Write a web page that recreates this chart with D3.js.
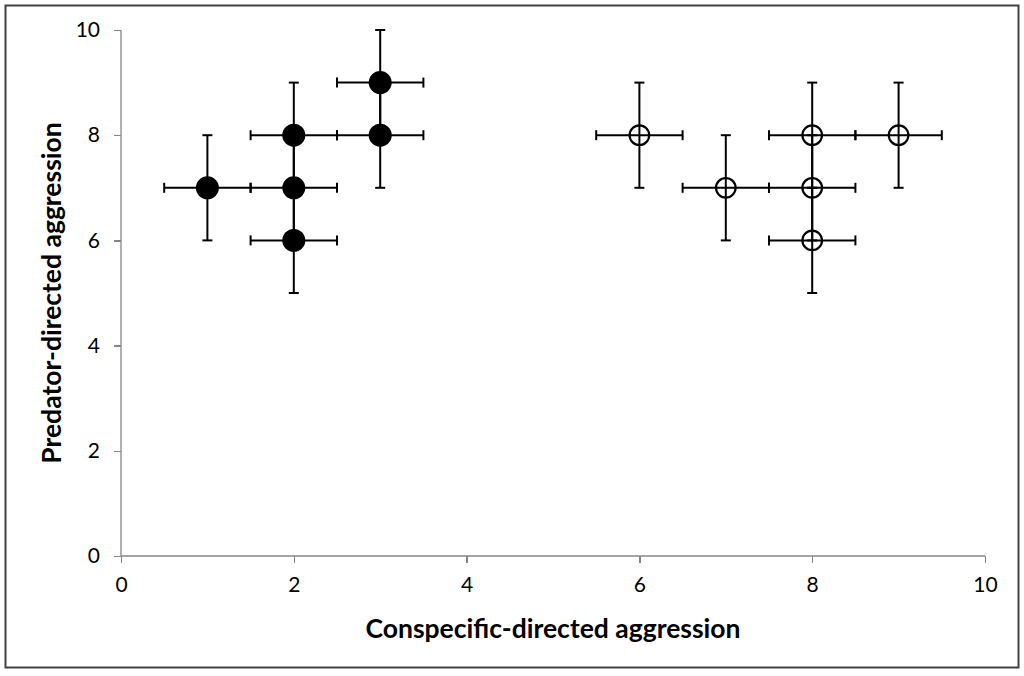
<!DOCTYPE html>
<html lang="en">
<head>
<meta charset="utf-8">
<title>Aggression scatter</title>
<script src="https://d3js.org/d3.v7.min.js"></script>
<style>
    body { margin: 0; background: #fff; }
    svg text { font-family: Lato, "Open Sans", sans-serif; fill: #000; }
    .axis path, .axis line { stroke: #868686; stroke-width: 1.3; shape-rendering: crispEdges; }
    .axis text { font-size: 21px; }
    .title { font-size: 26.5px; font-weight: bold; }
</style>
</head>
<body>
<script>
// data
var filledX = [1, 2, 2, 2, 3, 3];
var filledY = [7, 8, 7, 6, 9, 8];
var openX = [6, 7, 8, 8, 8, 9];
var openY = [8, 7, 8, 7, 6, 8];
var xErr = 0.5;
var yErr = 1;
var xTicks = [0, 2, 4, 6, 8, 10];
var yTicks = [0, 2, 4, 6, 8, 10];

var W = 1024, H = 676;
var margin = {top: 30, right: 39, bottom: 120, left: 121};

var svg = d3.select("body").append("svg")
    .attr("width", W)
    .attr("height", H);

// outer frame
svg.append("rect")
    .attr("x", 5.5).attr("y", 5.5)
    .attr("width", 1013).attr("height", 662)
    .attr("fill", "none")
    .attr("stroke", "#404040")
    .attr("stroke-width", 2);

var x = d3.scaleLinear().domain([0, 10]).range([margin.left, W - margin.right]);
var y = d3.scaleLinear().domain([0, 10]).range([H - margin.bottom, margin.top]);

var gx = svg.append("g")
    .attr("class", "axis")
    .attr("transform", "translate(0," + y(0) + ")")
    .call(d3.axisBottom(x).tickValues(xTicks).tickSize(7).tickSizeOuter(0).tickPadding(14));

var gy = svg.append("g")
    .attr("class", "axis")
    .attr("transform", "translate(" + x(0) + ",0)")
    .call(d3.axisLeft(y).tickValues(yTicks).tickSize(7).tickSizeOuter(0).tickPadding(14));

gx.select(".domain").remove();
gy.select(".domain").remove();
svg.append("line")
    .attr("x1", x(0)).attr("x2", x(10))
    .attr("y1", y(0)).attr("y2", y(0))
    .attr("stroke", "#868686").attr("stroke-width", 1.3);
svg.append("line")
    .attr("x1", x(0)).attr("x2", x(0))
    .attr("y1", y(0)).attr("y2", y(10))
    .attr("stroke", "#868686").attr("stroke-width", 1.3);

// axis titles
svg.append("text")
    .attr("class", "title")
    .attr("x", (x(0) + x(10)) / 2)
    .attr("y", 638)
    .attr("text-anchor", "middle")
    .text("Conspecific-directed aggression");

svg.append("text")
    .attr("class", "title")
    .attr("transform", "translate(61," + ((y(0) + y(10)) / 2) + ") rotate(-90)")
    .attr("text-anchor", "middle")
    .text("Predator-directed aggression");

var filled = filledX.map(function (d, i) { return {x: d, y: filledY[i]}; });
var open = openX.map(function (d, i) { return {x: d, y: openY[i]}; });
var all = filled.concat(open);
var cap = 5;

var drawBars = function (sel) {
    sel.each(function (d) {
        var g = d3.select(this);
        g.append("line")
            .attr("x1", x(d.x - xErr)).attr("x2", x(d.x + xErr))
            .attr("y1", y(d.y)).attr("y2", y(d.y));
        g.append("line")
            .attr("x1", x(d.x)).attr("x2", x(d.x))
            .attr("y1", y(d.y - yErr)).attr("y2", y(d.y + yErr));
        [d.x - xErr, d.x + xErr].forEach(function (v) {
            g.append("line")
                .attr("x1", x(v)).attr("x2", x(v))
                .attr("y1", y(d.y) - cap).attr("y2", y(d.y) + cap);
        });
        [d.y - yErr, d.y + yErr].forEach(function (v) {
            g.append("line")
                .attr("x1", x(d.x) - cap).attr("x2", x(d.x) + cap)
                .attr("y1", y(v)).attr("y2", y(v));
        });
    });
};

// open circles go under their error bars
svg.append("g").selectAll("circle")
    .data(open)
    .enter()
    .append("circle")
    .attr("cx", function (d) { return x(d.x); })
    .attr("cy", function (d) { return y(d.y); })
    .attr("r", 9.8)
    .attr("fill", "#fff")
    .attr("stroke", "#000")
    .attr("stroke-width", 2.2);

svg.append("g")
    .attr("stroke", "#000")
    .attr("stroke-width", 2)
    .selectAll("g")
    .data(all)
    .enter()
    .append("g")
    .call(drawBars);

svg.append("g").selectAll("circle")
    .data(filled)
    .enter()
    .append("circle")
    .attr("cx", function (d) { return x(d.x); })
    .attr("cy", function (d) { return y(d.y); })
    .attr("r", 11.5)
    .attr("fill", "#000");
</script>
</body>
</html>
